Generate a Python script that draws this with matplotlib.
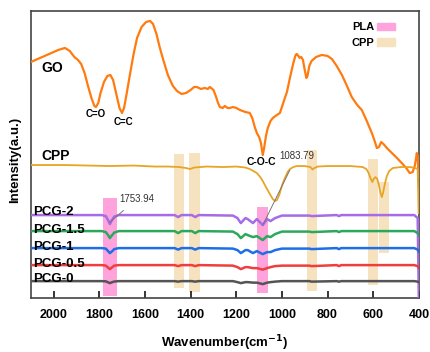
import matplotlib
matplotlib.use("Agg")
import matplotlib.pyplot as plt
from matplotlib.patches import Patch

plt.rcParams['font.family'] = ['Liberation Sans', 'DejaVu Sans']

# GO spectrum (wavenumber, intensity a.u.)
wn_go = [2100, 2060, 2020, 1980, 1951, 1930, 1910, 1894, 1880, 1865, 1850, 1835,
         1822, 1815, 1805, 1795, 1780, 1765, 1752, 1740, 1725, 1712, 1701, 1692,
         1680, 1665, 1650, 1635, 1615, 1595, 1578, 1565, 1550, 1535, 1520, 1500,
         1478, 1460, 1440, 1420, 1400, 1385, 1373, 1355, 1338, 1325, 1316, 1300,
         1290, 1280, 1272, 1260, 1250, 1238, 1228, 1215, 1200, 1184, 1160, 1141,
         1130, 1119, 1110, 1100, 1092, 1084, 1078, 1070, 1062, 1050, 1040, 1022,
         1009, 1000, 990, 978, 965, 950, 940, 935, 928, 922, 915, 908, 900, 893,
         888, 880, 870, 850, 825, 800, 781, 760, 737, 715, 694, 670, 650, 630,
         606, 595, 584, 575, 565, 555, 540, 518, 500, 475, 455, 440, 427, 418,
         412, 409, 405, 401]
go = [236, 240, 244, 248, 250, 247, 241, 238, 234, 225, 212, 200,
      192, 191, 195, 205, 216, 222, 223, 218, 203, 190, 185, 190,
      205, 225, 244, 260, 271, 276, 277, 274, 264, 250, 238, 223,
      212, 207, 204, 205, 208, 211, 211, 209, 210, 209, 211, 208,
      202, 195, 191, 190, 192, 190, 190, 191, 190, 188, 186, 185,
      180, 171, 165, 161, 155, 143, 150, 162, 170, 177, 180, 183,
      185, 191, 198, 206, 220, 235, 243, 244, 242, 240, 241, 238, 228, 220,
      222, 232, 237, 241, 243, 242, 239, 232, 223, 212, 201, 193, 188, 178,
      165, 158, 150, 151, 156, 154, 150, 145, 141, 135, 130, 125, 126, 132,
      140, 145, 142, 121]

# CPP spectrum
wn_cpp = [2100, 1950, 1850, 1754, 1650, 1560, 1500, 1450, 1420, 1403, 1385, 1330,
          1260, 1200, 1160, 1141, 1125, 1110, 1095, 1084, 1070, 1053, 1040, 1030,
          1022, 1012, 1003, 996, 985, 975, 965, 950, 935, 900, 875, 866, 858, 843,
          800, 750, 700, 646, 630, 620, 612, 604, 598, 590, 582, 575, 568, 562,
          556, 548, 540, 530, 514, 480, 440, 415, 405, 401]
cpp = [133, 133, 132.5, 132, 132.5, 131.5, 131.5, 131, 130, 129, 130.5, 131.5,
       131, 131.5, 130.5, 129, 127, 125, 121, 117, 111, 104, 99, 97,
       98, 103, 110, 115, 121, 126, 129, 131, 132, 132, 131, 128.5, 130, 131.5,
       132, 132, 132, 131, 129, 125, 120, 116, 119, 121, 119, 113, 105, 101,
       106, 115, 122, 127, 130, 131, 131, 130, 129, 85]

# PCG composites, shared wavenumber grid
wn_pcg = [2100, 1790, 1772, 1762, 1754, 1746, 1735, 1715, 1470, 1455, 1440, 1395,
          1380, 1365, 1215, 1195, 1180, 1160, 1150, 1127, 1110, 1084, 1065, 1050,
          1030, 1000, 880, 870, 760, 750, 740, 420, 405, 400]
pcg_2 = [83, 83, 82, 78, 74, 77.5, 81.5, 83, 83, 81, 83, 83,
         81, 83, 82.5, 80, 75, 80, 79, 75, 79, 73, 79, 77,
         80, 82.5, 82.5, 82, 83, 82, 83, 83, 80, 0]
pcg_15 = [67, 67, 66, 63, 60, 62.5, 65.5, 67, 67, 65, 67, 67,
          65, 67, 66.5, 64, 60, 64, 63, 61, 62, 58, 62, 61,
          64, 66.5, 66.5, 66, 67, 66, 67, 67, 65, 63]
pcg_1 = [50, 50, 49.5, 47, 45, 46.5, 49, 50, 50, 48.5, 50, 50,
         48.5, 50, 49.5, 48, 45, 48, 48, 45, 47, 44, 46, 46,
         48, 49.5, 49.5, 49, 50, 49, 50, 50, 48.5, 46.5]
pcg_05 = [33, 33, 32.5, 30.5, 29, 30.5, 32.5, 33, 33, 32, 33, 33,
          32, 33, 32.5, 31, 29, 31, 31, 30, 30, 28.5, 30, 31,
          32, 32.5, 32.5, 32, 33, 32, 33, 33, 32, 30.5]
pcg_0 = [17, 17, 16.8, 15.8, 15, 15.8, 16.6, 17, 17, 16.5, 17, 17,
         16.5, 17, 17, 16, 15, 16, 16, 15.5, 15.5, 14, 15.5, 16,
         16.5, 17, 17, 16.5, 17, 16.5, 17, 17, 16.5, 16]

# highlighted regions: (wn high, wn low, y low, y high)
pla_bands = [(1785, 1723, 2, 100), (1110, 1062, 5, 91)]
cpp_bands = [(1473, 1430, 10, 144), (1408, 1360, 6, 145), (891, 847, 7, 148),
             (624, 580, 13, 139), (575, 532, 45, 116)]

PINK = "#ffa3dc"
BEIGE = "#f7e2bf"

fig = plt.figure(figsize=(4.3, 3.52), dpi=100)
ax = fig.add_axes([0.072, 0.153, 0.902, 0.816])

for x0, x1, y0, y1 in pla_bands:
    ax.fill_between([x1, x0], y0, y1, color=PINK, lw=0, zorder=1)
for x0, x1, y0, y1 in cpp_bands:
    ax.fill_between([x1, x0], y0, y1, color=BEIGE, lw=0, zorder=1)

ax.plot(wn_go, go, color="#ff7b0f", lw=1.6, zorder=3)
ax.plot(wn_cpp, cpp, color="#e7a526", lw=1.3, zorder=3)
ax.plot(wn_pcg, pcg_2, color="#a66be6", lw=1.8, zorder=3)
ax.plot(wn_pcg, pcg_15, color="#2aa95c", lw=1.8, zorder=3)
ax.plot(wn_pcg, pcg_1, color="#1d6fe6", lw=1.8, zorder=3)
ax.plot(wn_pcg, pcg_05, color="#f03d3d", lw=1.8, zorder=3)
ax.plot(wn_pcg, pcg_0, color="#545454", lw=1.8, zorder=3)

bold = dict(fontweight="bold", color="black")
ax.text(2056, 229.5, "GO", fontsize=10, va="center", ha="left", **bold)
ax.text(2056, 142.5, "CPP", fontsize=10, va="center", ha="left", **bold)
for y, lab in [(86, "PCG-2"), (68, "PCG-1.5"), (51.5, "PCG-1"), (34.5, "PCG-0.5"), (19, "PCG-0")]:
    ax.text(2091, y, lab, fontsize=9.5, va="center", ha="left", zorder=4, **bold)

ax.text(1815, 184, "C=O", fontsize=7, ha="center", va="center", **bold)
ax.text(1693, 176, "C=C", fontsize=7, ha="center", va="center", **bold)
ax.text(1088, 136, "C-O-C", fontsize=7.5, ha="center", va="center", **bold)

ax.annotate("1753.94", xy=(1754, 76), xytext=(1636, 99), fontsize=7, color="#333333",
            ha="center", va="center",
            arrowprops=dict(arrowstyle="-", color="#777777", lw=0.7, shrinkA=4, shrinkB=0))
ax.annotate("1083.79", xy=(1084, 73), xytext=(935, 142), fontsize=7, color="#333333",
            ha="center", va="center",
            arrowprops=dict(arrowstyle="-", color="#777777", lw=0.7, shrinkA=5, shrinkB=0))

handles = [Patch(color=PINK, label="PLA"), Patch(color=BEIGE, label="CPP")]
leg = ax.legend(handles=handles, loc="upper right", bbox_to_anchor=(0.965, 0.995),
                frameon=False, markerfirst=False, handlelength=1.6, handleheight=0.6,
                handletextpad=0.3, labelspacing=0.5, prop=dict(weight="bold", size=8))

ax.set_xlim(2100, 400)
ax.set_ylim(0, 287)
ax.set_xticks([2000, 1800, 1600, 1400, 1200, 1000, 800, 600, 400])
ax.set_yticks([])
ax.tick_params(axis="x", direction="in", length=5, width=1.1, labelsize=9, pad=8)
for lab in ax.get_xticklabels():
    lab.set_fontweight("bold")
for s in ax.spines.values():
    s.set_color("#444444")
    s.set_linewidth(1.2)

ax.set_xlabel("Wavenumber(cm$^{\\mathbf{-1}}$)", fontsize=9.5, fontweight="bold", labelpad=9)
ax.set_ylabel("Intensity(a.u.)", fontsize=9.5, fontweight="bold")
ax.yaxis.set_label_coords(-0.025, 0.48)

fig.savefig("out.png", dpi=100)
